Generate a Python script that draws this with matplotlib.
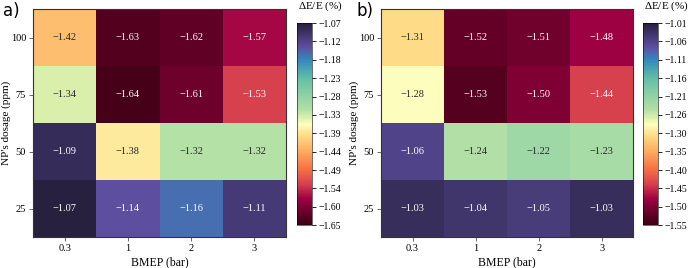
import numpy as np
import matplotlib
matplotlib.use("Agg")
import matplotlib.pyplot as plt
from matplotlib.colors import LinearSegmentedColormap, to_rgb

plt.rcParams['font.family'] = ['Liberation Serif', 'DejaVu Serif']
plt.rcParams['mathtext.fontset'] = 'custom'
plt.rcParams['mathtext.rm'] = 'Liberation Serif'

bmep = ["0.3", "1", "2", "3"]
dosage = ["100", "75", "50", "25"]

# rows from top (100 ppm) to bottom (25 ppm)
vals_a = [[-1.42, -1.63, -1.62, -1.57],
          [-1.34, -1.64, -1.61, -1.53],
          [-1.09, -1.38, -1.32, -1.32],
          [-1.07, -1.14, -1.16, -1.11]]
vals_b = [[-1.31, -1.52, -1.51, -1.48],
          [-1.28, -1.53, -1.50, -1.44],
          [-1.06, -1.24, -1.22, -1.23],
          [-1.03, -1.04, -1.05, -1.03]]
lims_a = (-1.65, -1.07)
lims_b = (-1.55, -1.01)

# Spectral with darkened ends
cmap = LinearSegmentedColormap.from_list("spec_dark", [
    (0.0, "#3a0012"), (0.13, "#9e0142"), (0.20, "#d53e4f"), (0.27, "#f46d43"),
    (0.37, "#fdae61"), (0.45, "#fee08b"), (0.50, "#ffffbf"), (0.52, "#e9f5b0"),
    (0.57, "#b3e0a6"), (0.72, "#66c2a5"), (0.82, "#3288bd"), (0.88, "#5e4fa2"),
    (1.0, "#28203f")])


def luminance(c):
    rgb = np.array(to_rgb(c))
    rgb = np.where(rgb <= 0.03928, rgb / 12.92, ((rgb + 0.055) / 1.055) ** 2.4)
    return 0.2126 * rgb[0] + 0.7152 * rgb[1] + 0.0722 * rgb[2]


def draw(ax, cax, vals, lims):
    data = np.array(vals)
    vmin, vmax = lims
    mesh = ax.pcolormesh(data, cmap=cmap, vmin=vmin, vmax=vmax)
    ax.set_xlim(0, 4)
    ax.set_ylim(4, 0)
    ax.set_xticks(np.arange(4) + 0.5)
    ax.set_xticklabels(bmep)
    ax.set_yticks(np.arange(4) + 0.5)
    ax.set_yticklabels(dosage)
    ax.tick_params(labelsize=7.5, length=3, width=0.6, color='#555555', pad=2)
    ax.set_xlabel("BMEP (bar)", fontsize=8.5, labelpad=2)
    ax.set_ylabel("NP's dosage (ppm)", fontsize=8)
    ax.yaxis.set_label_coords(-0.087, 0.5)
    for s in ax.spines.values():
        s.set_linewidth(0.8)
        s.set_color('#333333')
    for i in range(4):
        for j in range(4):
            v = data[i, j]
            col = cmap((v - vmin) / (vmax - vmin))
            tc = '#262626' if luminance(col) > 0.408 else 'white'
            ax.text(j + 0.5, i + 0.5, "\u2212%.2f" % abs(v), ha='center', va='center',
                    fontsize=7.5, color=tc)
    cb = plt.colorbar(mesh, cax=cax)
    ticks = np.linspace(vmin, vmax, 12)
    cb.set_ticks(ticks)
    cb.set_ticklabels(["\u2212%.2f" % abs(t) for t in ticks])
    cb.ax.tick_params(labelsize=7, length=3, width=0.6, pad=2)
    cb.outline.set_linewidth(0.4)
    cax.text(0.1, 1.05, r"$\Delta$E/E (%)", transform=cax.transAxes, ha='left',
             va='bottom', fontsize=8)


fig = plt.figure(figsize=(6.89, 2.68), dpi=100)
ax1 = fig.add_axes([0.048, 0.115, 0.367, 0.851])
cax1 = fig.add_axes([0.431, 0.160, 0.0218, 0.754])
ax2 = fig.add_axes([0.553, 0.115, 0.366, 0.851])
cax2 = fig.add_axes([0.933, 0.160, 0.0218, 0.754])

draw(ax1, cax1, vals_a, lims_a)
draw(ax2, cax2, vals_b, lims_b)

fig.text(3 / 689, 1 - 2 / 268, "a)", fontsize=12, family='DejaVu Sans', ha='left', va='top')
fig.text(357 / 689, 1 - 2 / 268, "b)", fontsize=12, family='DejaVu Sans', ha='left', va='top')

fig.savefig("out.png", dpi=100)
